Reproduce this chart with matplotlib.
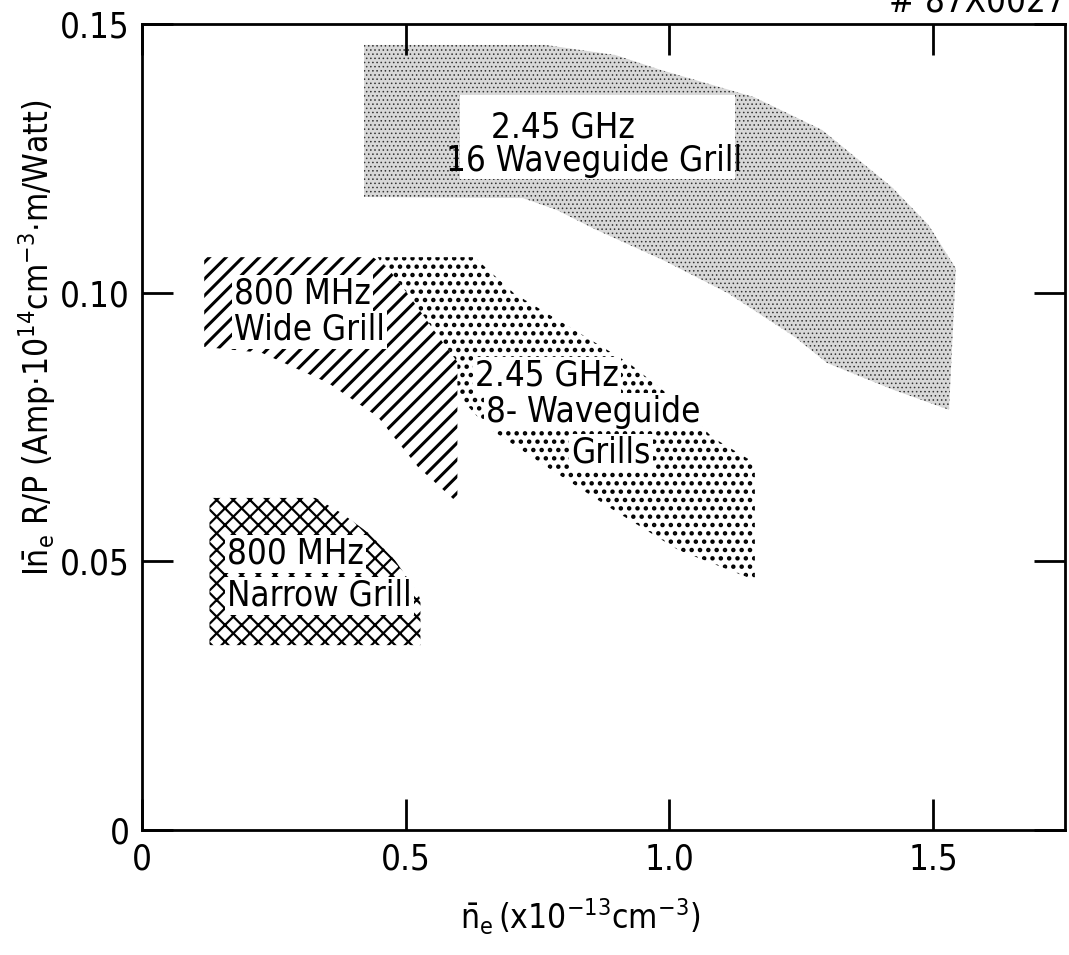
import matplotlib
matplotlib.use("Agg")
import matplotlib.pyplot as plt
from matplotlib import font_manager

# Outlines of the measured regions, read off the original figure
# x: line-averaged density (x10^13 cm^-3), y: current drive efficiency
g16_x = [0.421, 0.765, 0.898, 0.985, 1.160, 1.289, 1.421, 1.491, 1.543, 1.530,
         1.425, 1.299, 1.237, 1.111, 0.987, 0.861, 0.786, 0.722, 0.421]
g16_y = [0.1461, 0.1461, 0.1442, 0.1414, 0.1364, 0.1303, 0.1197, 0.1126, 0.1045, 0.0782,
         0.0819, 0.0869, 0.0918, 0.0999, 0.1061, 0.1117, 0.1154, 0.1176, 0.1178]

g8_x = [0.447, 0.630, 0.705, 0.829, 0.923, 1.017, 1.081, 1.162, 1.162,
        1.017, 0.893, 0.767, 0.654, 0.598, 0.541, 0.485]
g8_y = [0.1066, 0.1066, 0.0999, 0.0925, 0.0869, 0.0795, 0.0731, 0.0683, 0.0465,
        0.0521, 0.0596, 0.0676, 0.0750, 0.0810, 0.0931, 0.1005]

wide_x = [0.118, 0.438, 0.466, 0.509, 0.560, 0.598, 0.598, 0.523, 0.447, 0.353, 0.227, 0.118]
wide_y = [0.1066, 0.1066, 0.1046, 0.0991, 0.0921, 0.0871, 0.0609, 0.0676, 0.0769, 0.0832, 0.0888, 0.0899]

narrow_x = [0.128, 0.329, 0.378, 0.429, 0.479, 0.523, 0.528, 0.528, 0.128]
narrow_y = [0.0618, 0.0618, 0.0590, 0.0553, 0.0503, 0.0441, 0.0428, 0.0344, 0.0344]

x_ticks = [0, 0.5, 1.0, 1.5]
x_tick_labels = ["0", "0.5", "1.0", "1.5"]
y_ticks = [0, 0.05, 0.10, 0.15]
y_tick_labels = ["0", "0.05", "0.10", "0.15"]

# Pick a narrow sans font if one is around
names = {f.name for f in font_manager.fontManager.ttflist}
font = "Liberation Sans Narrow" if "Liberation Sans Narrow" in names else "DejaVu Sans"
plt.rcParams["font.family"] = [font, "DejaVu Sans"]
plt.rcParams["font.stretch"] = "condensed"
plt.rcParams["mathtext.fontset"] = "custom"
plt.rcParams["mathtext.rm"] = font
plt.rcParams["mathtext.it"] = font
plt.rcParams["mathtext.bf"] = font


def hatch_lw(patches, lw):
    for p in patches:
        if hasattr(p, "set_hatch_linewidth"):
            p.set_hatch_linewidth(lw)


fig = plt.figure(figsize=(10.69, 9.55), dpi=100)
ax = fig.add_axes([0.1328, 0.1309, 0.8635, 0.8440])

# Regions (8-waveguide dots sit underneath the wide-grill hatching)
p = ax.fill(g16_x, g16_y, facecolor="#d8d8d8", edgecolor="#333333", hatch="....", linewidth=0)
hatch_lw(p, 0.6)
p = ax.fill(g8_x, g8_y, facecolor="white", edgecolor="black", hatch="..", linewidth=0)
hatch_lw(p, 2.0)
p = ax.fill(wide_x, wide_y, facecolor="white", edgecolor="black", hatch="//", linewidth=0)
hatch_lw(p, 2.2)
p = ax.fill(narrow_x, narrow_y, facecolor="white", edgecolor="black", hatch="xx", linewidth=0)
hatch_lw(p, 1.6)

# Labels inside the regions
box = dict(facecolor="white", edgecolor="none", pad=1.5)
ax.add_patch(plt.Rectangle((0.603, 0.1212), 0.521, 0.0156, facecolor="white", edgecolor="none"))
ax.text(0.799, 0.1307, "2.45 GHz", fontsize=25, ha="center", va="center")
ax.text(0.857, 0.1245, "16 Waveguide Grill", fontsize=25, ha="center", va="center")

ax.text(0.767, 0.0845, "2.45 GHz", fontsize=25, ha="center", va="center", bbox=box)
ax.text(0.855, 0.0778, "8- Waveguide", fontsize=25, ha="center", va="center", bbox=box)
ax.text(0.889, 0.0702, "Grills", fontsize=25, ha="center", va="center", bbox=box)

ax.text(0.175, 0.0998, "800 MHz", fontsize=25, ha="left", va="center", bbox=box)
ax.text(0.175, 0.0931, "Wide Grill", fontsize=25, ha="left", va="center", bbox=box)

ax.text(0.162, 0.0514, "800 MHz", fontsize=25, ha="left", va="center", bbox=box)
ax.text(0.162, 0.0436, "Narrow Grill", fontsize=25, ha="left", va="center", bbox=box)

# Axes, ticks on all four sides pointing in
ax.set_xlim(0, 1.75)
ax.set_ylim(0, 0.15)
ax.set_xticks(x_ticks, x_tick_labels)
ax.set_yticks(y_ticks, y_tick_labels)
ax.tick_params(direction="in", length=22, width=2, labelsize=25, pad=9,
               top=True, right=True)
for s in ax.spines.values():
    s.set_linewidth(2)

ax.set_xlabel(r"$\bar{\mathrm{n}}_{\mathrm{e}}\,(\mathrm{x10}^{-13}\mathrm{cm}^{-3})$", fontsize=24)
ax.xaxis.set_label_coords(0.4745, -0.082)
ax.set_ylabel(r"$\mathrm{I\bar{n}_e}$ R/P (Amp$\cdot$10$^{14}$cm$^{-3}$$\cdot$m/Watt)", fontsize=24)
ax.yaxis.set_label_coords(-0.091, 0.61)

fig.text(0.997, 1 - 12 / 955, "# 87X0027", fontsize=25, ha="right", va="baseline")

plt.savefig("out.png", dpi=100)
